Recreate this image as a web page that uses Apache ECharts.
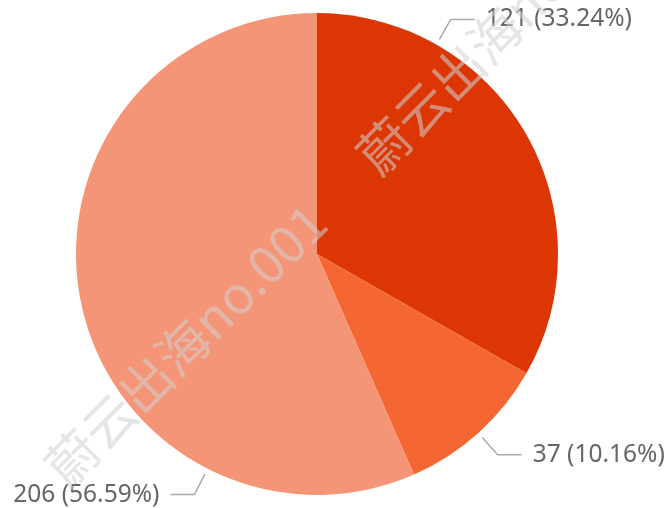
<!DOCTYPE html>
<html>
<head>
<meta charset="utf-8">
<script src="https://cdn.jsdelivr.net/npm/echarts@6/dist/echarts.min.js"></script>
<style>html,body{margin:0;padding:0;background:#fff}#c{width:665px;height:508px}</style>
</head>
<body>
<div id="c"></div>
<script>
// data
const categories = ['A', 'B', 'C'];
const values = [121, 37, 206];
const colors = ['#DB3604', '#F56732', '#F59577'];
const watermarkText = '蔚云出海no.001';

// layout constants
const CX = 317, CY = 254, R = 241;
const labelAnchorDeg = [29.7, 138, 207];
const GAP = 6, LEN1 = 23, LEN2 = 24, TXT_GAP = 11;

const total = values.reduce((s, v) => s + v, 0);

const chart = echarts.init(document.getElementById('c'), null, {renderer: 'canvas'});

function labelLayout(params) {
  const i = params.dataIndex;
  const a = labelAnchorDeg[i] * Math.PI / 180;
  const ux = Math.sin(a), uy = -Math.cos(a);
  const p0 = [CX + (R + GAP) * ux, CY + (R + GAP) * uy];
  const p1 = [p0[0] + LEN1 * ux, p0[1] + LEN1 * uy];
  const dir = ux >= 0 ? 1 : -1;
  const p2 = [p1[0] + dir * LEN2, p1[1]];
  return {
    x: p2[0] + dir * TXT_GAP,
    y: p2[1],
    align: dir > 0 ? 'left' : 'right',
    verticalAlign: 'middle',
    labelLinePoints: [p0, p1, p2]
  };
}

const wmStyle = {
  text: watermarkText,
  fontSize: 52,
  fontFamily: '"Noto Sans CJK SC", "Noto Sans", sans-serif',
  fill: 'rgba(208,208,208,0.56)',
  textAlign: 'left',
  textVerticalAlign: 'middle'
};

chart.setOption({
  animation: false,
  backgroundColor: '#fff',
  color: colors,
  series: [{
    type: 'pie',
    center: [CX, CY],
    radius: R,
    startAngle: 90,
    clockwise: true,
    avoidLabelOverlap: false,
    data: categories.map((c, i) => ({name: c, value: values[i]})),
    label: {
      show: true,
      formatter: p => p.value + ' (' + (p.value / total * 100).toFixed(2) + '%)',
      color: '#666',
      fontSize: 24.5,
      fontFamily: '"Noto Sans", sans-serif'
    },
    labelLine: {
      show: true,
      lineStyle: {color: '#aaa', width: 1.5}
    },
    labelLayout: labelLayout,
    itemStyle: {borderWidth: 0},
    emphasis: {disabled: true}
  }],
  graphic: [
    {type: 'text', x: 54, y: 476, rotation: Math.PI / 4, z: 100, silent: true, style: wmStyle},
    {type: 'text', x: 366, y: 164, rotation: Math.PI / 4, z: 100, silent: true, style: wmStyle}
  ]
});
</script>
</body>
</html>
